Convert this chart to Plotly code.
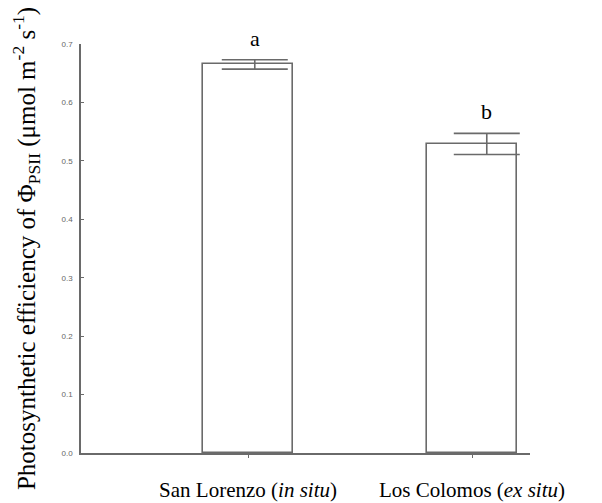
import plotly.graph_objects as go

categories = ["San Lorenzo (<i>in situ</i>)", "Los Colomos (<i>ex situ</i>)"]
values = [0.665, 0.529]
errors = [0.008, 0.018]
letters = ["a", "b"]
y_ticks = [0.0, 0.1, 0.2, 0.3, 0.4, 0.5, 0.6, 0.7]

pos = list(range(len(categories)))
err_offset = [0.03, 0.066]  # error bars drawn slightly right of bar centre
err_pos = [p + o for p, o in zip(pos, err_offset)]

SERIF = "Liberation Serif, Times New Roman, serif"

fig = go.Figure()
fig.add_trace(go.Bar(
    x=pos, y=values, width=0.40,
    marker=dict(color="white", line=dict(color="#6a6a6a", width=1.6)),
    showlegend=False, hoverinfo="skip",
))
fig.add_trace(go.Scatter(
    x=err_pos, y=values, mode="markers",
    marker=dict(size=1, color="rgba(0,0,0,0)"),
    error_y=dict(type="data", array=errors, visible=True,
                 color="#6a6a6a", thickness=1.6, width=33),
    showlegend=False, hoverinfo="skip",
))
for xp, v, e, t in zip(err_pos, values, errors, letters):
    fig.add_annotation(x=xp, y=v + e, text=t, showarrow=False,
                       yanchor="bottom", yshift=7,
                       font=dict(family=SERIF, size=22, color="black"))

fig.update_layout(
    width=594, height=495,
    margin=dict(l=73, r=72, t=36, b=50, autoexpand=False),
    paper_bgcolor="white", plot_bgcolor="white",
    bargap=0,
)
fig.update_xaxes(
    range=[-0.746, 1.259],
    tickvals=pos, ticktext=categories,
    showline=True, linecolor="#6a6a6a", linewidth=1.6,
    ticks="outside", ticklen=3, tickcolor="#6a6a6a",
    showgrid=False, zeroline=False, automargin=False,
    ticklabelstandoff=14,
    tickfont=dict(family=SERIF, size=21, color="black"),
)
fig.update_yaxes(
    range=[0, 0.7],
    tickvals=y_ticks, tickformat=".1f",
    showline=True, linecolor="#6a6a6a", linewidth=1.6,
    ticks="inside", ticklen=3, tickcolor="#6a6a6a",
    showgrid=False, zeroline=False, automargin=False,
    ticklabelstandoff=5,
    tickfont=dict(family="Liberation Sans", size=8, color="#666666"),
    title=dict(
        text="Photosynthetic efficiency of Φ<sub>PSII</sub> (μmol m<sup>-2</sup> s<sup>-1</sup>)",
        font=dict(family=SERIF, size=25, color="black"),
        standoff=31,
    ),
)

fig.write_html("out.html")
